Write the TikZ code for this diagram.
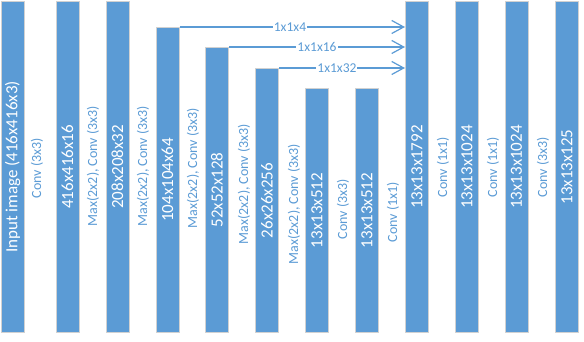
\documentclass[tikz,border=0pt]{standalone}
\usepackage{fontspec}
\setmainfont{Carlito}
\usetikzlibrary{arrows.meta}
\definecolor{barblue}{RGB}{91,155,213}
\begin{document}
\begin{tikzpicture}[x=1pt, y=1pt,
  bar/.style={draw=black!18, line width=1pt, fill=barblue, text=white, minimum width=23pt, inner sep=0pt, anchor=south, font=\fontsize{17}{17}\selectfont},
  op/.style={text=barblue, rotate=90, inner sep=0pt, font=\fontsize{14}{14}\selectfont},
  arrow/.style={-{Straight Barb[length=12pt, width=13pt]}, draw=barblue, line width=1.2pt},
  size/.style={fill=white, text=barblue, inner sep=1pt, font=\fontsize{13.5}{13.5}\selectfont}
]
\useasboundingbox (0,0) rectangle (584,342);

\node[bar, minimum height=331pt] at (12.5,9) (input) {\rotatebox{90}{Input image (416x416x3)}};
\node[bar, minimum height=331pt] at (67.5,9) (l416) {\rotatebox{90}{416x416x16}};
\node[bar, minimum height=331pt] at (117.5,9) (l208) {\rotatebox{90}{208x208x32}};
\node[bar, minimum height=305pt] at (167.5,9) (l104) {\rotatebox{90}{104x104x64}};
\node[bar, minimum height=285pt] at (217,9) (l52) {\rotatebox{90}{52x52x128}};
\node[bar, minimum height=264pt] at (267,9) (l26) {\rotatebox{90}{26x26x256}};
\node[bar, minimum height=244pt] at (317,9) (l13a) {\rotatebox{90}{13x13x512}};
\node[bar, minimum height=244pt] at (367,9) (l13b) {\rotatebox{90}{13x13x512}};
\node[bar, minimum height=331pt] at (417,9) (f1792) {\rotatebox{90}{13x13x1792}};
\node[bar, minimum height=331pt] at (467,9) (f1024a) {\rotatebox{90}{13x13x1024}};
\node[bar, minimum height=331pt] at (516.5,9) (f1024b) {\rotatebox{90}{13x13x1024}};
\node[bar, minimum height=331pt] at (567,9) (out125) {\rotatebox{90}{13x13x125}};

% operations between the layers
\node[op] at (37,174) (op1) {Conv (3x3)};
\node[op] at (93,176) (op2) {Max(2x2), Conv (3x3)};
\node[op] at (143,176) (op3) {Max(2x2), Conv (3x3)};
\node[op] at (193,174) (op4) {Max(2x2), Conv (3x3)};
\node[op] at (244,158) (op5) {Max(2x2), Conv (3x3)};
\node[op] at (294,138) (op6) {Max(2x2), Conv (3x3)};
\node[op] at (343,133) (op7) {Conv (3x3)};
\node[op] at (393,130) (op8) {Conv (1x1)};
\node[op] at (443,175) (op9) {Conv (1x1)};
\node[op] at (493,175) (op10) {Conv (1x1)};
\node[op] at (543,175) (op11) {Conv (3x3)};

% skip connections
\draw[arrow] (l104.north east) -- (l104.north east -| f1792.west) node[size, pos=0.49] {1x1x4};
\draw[arrow] (l52.north east) -- (l52.north east -| f1792.west) node[size, midway] {1x1x16};
\draw[arrow] (l26.north east) -- (l26.north east -| f1792.west) node[size, pos=0.46] {1x1x32};
\end{tikzpicture}
\end{document}
